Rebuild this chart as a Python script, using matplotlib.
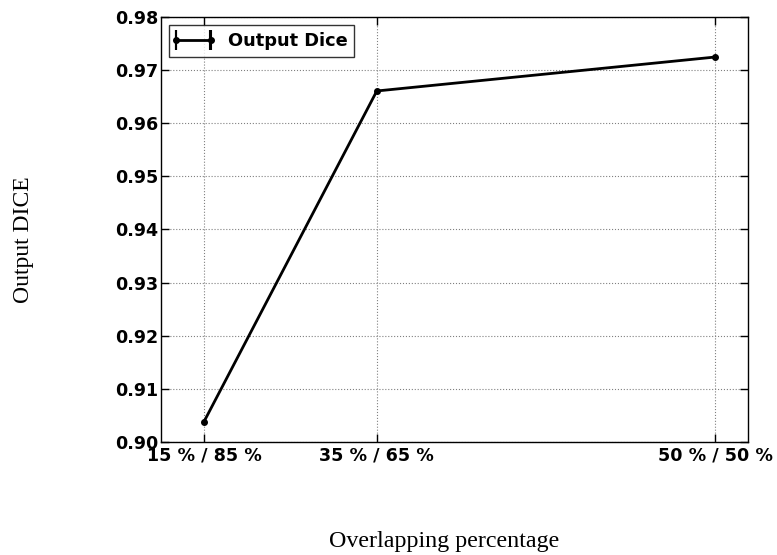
import numpy as np
import matplotlib
matplotlib.use("Agg")
from matplotlib import pyplot as plt
from matplotlib.legend_handler import HandlerErrorbar

# overlap split between the two windows
categories = ["15 % / 85 %", "35 % / 65 %", "50 % / 50 %"]
x_pos = [0, 1, 2.96]  # tick positions as spaced in the figure
dice = [0.9038, 0.9661, 0.9725]

y_ticks = [0.90, 0.91, 0.92, 0.93, 0.94, 0.95, 0.96, 0.97, 0.98]

fig = plt.figure(figsize=(7.77, 5.55), dpi=100)
ax = fig.add_axes([0.207, 0.204, 0.756, 0.765])

# the line itself
ax.plot(x_pos, dice, color="black", lw=2, marker="o", ms=4)

# proxy errorbar so the legend shows the errorbar handle
ax.errorbar([np.nan], [np.nan], xerr=[1], color="black", lw=2,
            marker="o", ms=4, capsize=7, capthick=1.5, label="Output Dice")

ax.set_xlim(-0.25, 3.15)
ax.set_ylim(0.90, 0.98)
ax.set_xticks(x_pos)
ax.set_xticklabels(categories)
ax.set_yticks(y_ticks)
ax.set_yticklabels([f"{t:.2f}" for t in y_ticks])

for lab in ax.get_xticklabels() + ax.get_yticklabels():
    lab.set_fontweight("bold")
    lab.set_fontsize(12.6)

ax.tick_params(direction="in", top=True, right=True, length=6, width=1, pad=2)
ax.tick_params(axis="x", pad=3.5)
ax.grid(True, color="gray", ls=":", lw=0.8)
for s in ax.spines.values():
    s.set_linewidth(1)

leg = ax.legend(loc="upper left", fancybox=False, edgecolor="black",
                prop={"weight": "bold", "size": 12.8}, handlelength=1.95,
                numpoints=2, borderaxespad=0.45, handletextpad=0.95,
                handler_map={type(ax.containers[0]): HandlerErrorbar(xerr_size=0.02, marker_pad=0.0)})
leg.get_frame().set_linewidth(1)

fig.text(0.03, 0.568, "Output DICE", rotation=90, ha="center", va="center",
         family="Liberation Serif", fontsize=17)
fig.text(0.571, 0.025, "Overlapping percentage", ha="center", va="center",
         family="Liberation Serif", fontsize=17.3)

fig.savefig("out.png", dpi=100)
